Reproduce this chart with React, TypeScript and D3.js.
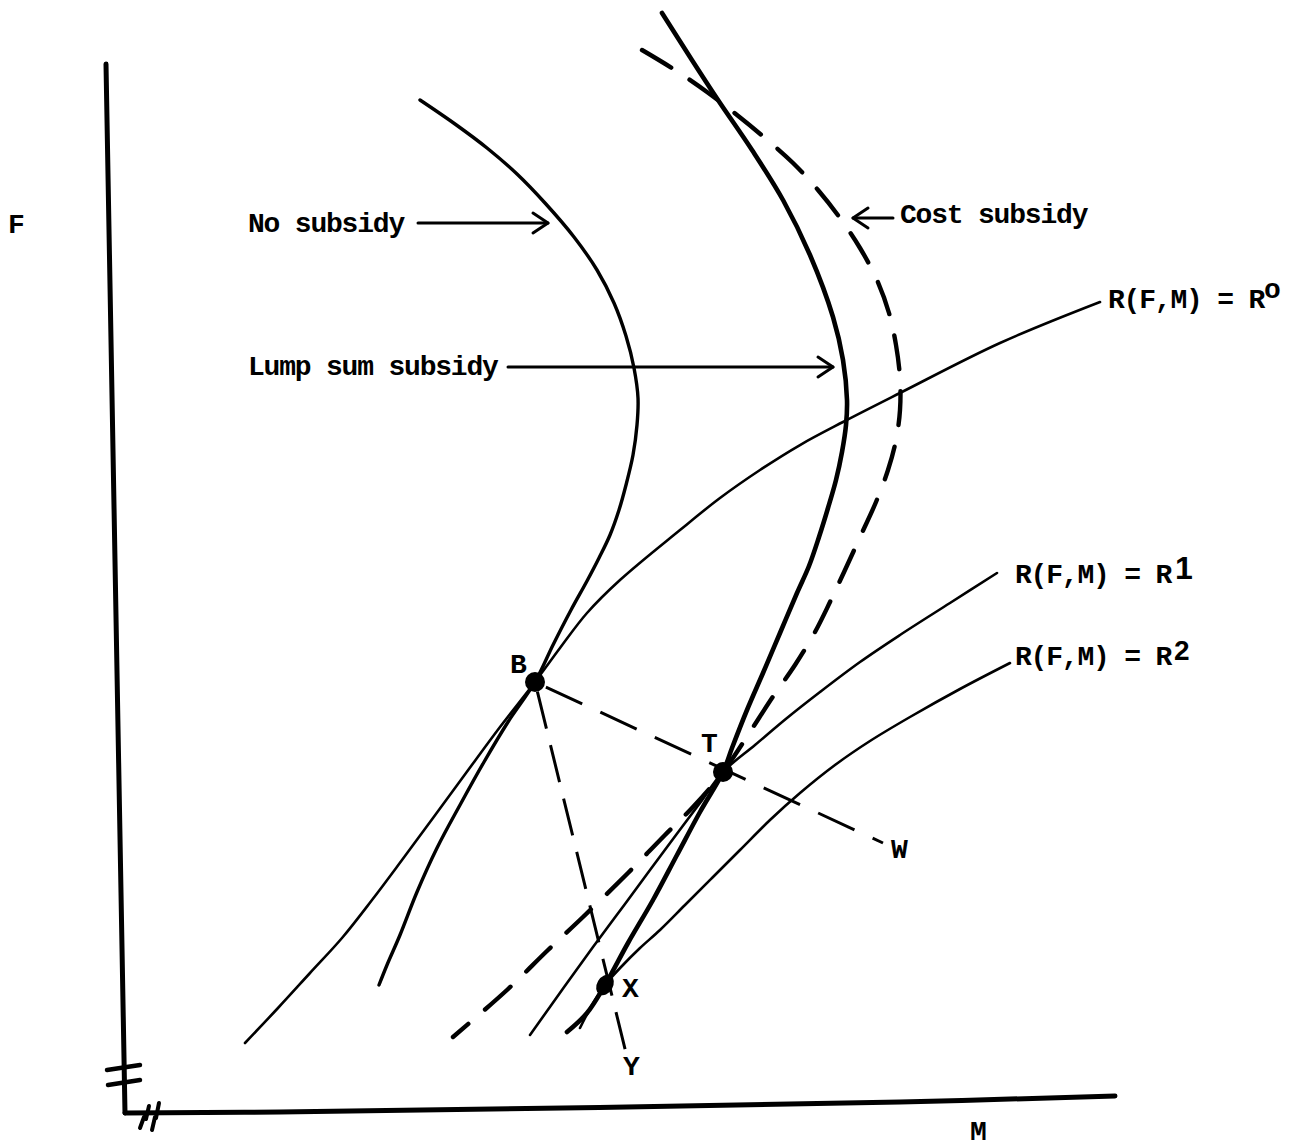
import React from "react";
import * as d3 from "d3";

type P = [number, number];

// ---- data (M on horizontal, F on vertical; arbitrary units) ----
const noSubsidy: P[] = [
  [30.0, 101.0], [33.5, 98.6], [36.7, 96.2], [39.7, 93.6], [42.5, 90.7], [45.4, 87.3],
  [47.7, 84.0], [49.4, 80.7], [50.6, 77.4], [51.4, 74.2], [51.8, 71.2], [51.7, 68.5],
  [51.3, 65.5], [50.6, 62.5], [49.9, 60.0], [49.0, 57.5], [47.9, 55.2], [46.7, 52.9],
  [45.1, 50.0], [43.3, 46.5], [41.5, 42.8], [38.8, 38.8], [36.4, 34.8], [34.0, 30.5],
  [31.7, 26.2], [29.7, 21.8], [28.0, 17.5], [26.7, 14.5], [25.9, 12.5],
];

const lumpSum: P[] = [
  [54.2, 109.7], [57.0, 105.3], [59.8, 101.0], [63.2, 96.0], [66.3, 91.0], [69.0, 85.5],
  [71.3, 79.3], [72.3, 75.0], [72.7, 71.0], [72.6, 68.5], [72.2, 65.8], [71.6, 63.0],
  [70.8, 60.2], [69.9, 57.3], [68.9, 54.4], [67.7, 51.7], [66.0, 47.7], [64.3, 43.7],
  [62.7, 40.0], [61.2, 36.2], [60.3, 33.8], [58.0, 29.8], [55.7, 25.5], [53.3, 21.0],
  [50.8, 16.7], [48.5, 12.5], [46.7, 9.7], [44.7, 7.8],
];

const costSubsidy: P[] = [
  [52.2, 106.0], [55.5, 104.0], [58.7, 101.8], [61.7, 99.5], [64.5, 97.2], [67.3, 94.7],
  [69.8, 92.0], [72.0, 89.2], [74.0, 86.2], [75.7, 83.0], [76.9, 79.7], [77.6, 76.5],
  [78.0, 73.2], [78.0, 70.0], [77.6, 67.0], [76.8, 64.0], [75.6, 60.8], [74.1, 57.5],
  [72.5, 54.0], [71.0, 50.8], [69.5, 47.8], [67.5, 44.5], [65.2, 41.2], [62.8, 37.5],
  [60.3, 33.8], [57.3, 30.3], [54.5, 27.5], [50.8, 23.7], [46.3, 19.3], [42.8, 16.0],
  [38.7, 12.0], [33.3, 7.3],
];

const r0: P[] = [
  [98.0, 80.8], [88.0, 76.7], [78.0, 71.7], [72.3, 68.8], [68.0, 66.5], [64.0, 64.0],
  [60.0, 61.2], [56.0, 58.0], [50.0, 53.0], [46.7, 49.7], [44.0, 46.2], [41.5, 42.8],
  [38.0, 38.3], [34.6, 33.7], [31.3, 29.2], [28.2, 25.0], [25.2, 21.0], [22.2, 17.2],
  [19.0, 13.7], [15.8, 10.2], [12.5, 6.7],
];

const r1: P[] = [
  [87.7, 53.7], [83.0, 50.7], [78.0, 47.5], [74.0, 44.8], [70.0, 41.8], [66.7, 39.2],
  [63.5, 36.5], [60.3, 33.8], [58.0, 30.7], [55.6, 27.5], [53.0, 24.0], [50.2, 20.2],
  [47.3, 16.3], [44.2, 12.0], [41.0, 7.5],
];

const r2: P[] = [
  [89.0, 44.7], [84.0, 42.1], [79.0, 39.3], [75.0, 36.9], [71.5, 34.5], [68.0, 31.7],
  [65.0, 29.0], [62.0, 26.0], [59.2, 23.2], [56.5, 20.5], [54.0, 18.0], [52.0, 16.2],
  [50.2, 14.4], [48.5, 12.5], [47.2, 10.5], [46.0, 8.2],
];

const pointB: P = [41.5, 42.8];
const pointT: P = [60.3, 33.8];
const pointX: P = [48.5, 12.5];
const endW: P = [76.3, 26.7];
const endY: P = [50.7, 5.3];

const axisF: P[] = [[-1.4, 104.6], [0.5, -0.3]];
const axisM: P[] = [[0.5, -0.3], [16.0, -0.2], [78.0, 0.8], [99.5, 1.4]];
const breakF: P[][] = [
  [[-1.3, 4.0], [2.0, 4.5]],
  [[-1.2, 2.5], [2.0, 3.0]],
];
const breakM: P[][] = [
  [[2.0, -1.8], [2.4, -0.7], [2.6, -0.9], [2.9, 0.4]],
  [[3.2, -2.0], [3.5, -0.7], [3.6, -0.8], [3.9, 0.7]],
];

const arrowNo: P[] = [[29.8, 88.7], [42.8, 88.7]];
const arrowLump: P[] = [[38.8, 74.3], [71.3, 74.3]];
const arrowCost: P[] = [[77.3, 89.2], [73.3, 89.2]];

const curveNames = ["No subsidy", "Lump sum subsidy", "Cost subsidy"];
const levelText = "R(F,M) = R";
const levelSup = ["o", "1", "2"];
const pointNames = ["B", "T", "X", "W", "Y"];
const axisNames = ["F", "M"];

// ---- scales ----
const W = 1300;
const H = 1148;
const x = d3.scaleLinear().domain([0, 100]).range([120, 1120]);
const y = d3.scaleLinear().domain([0, 110]).range([1110, 10]);

const smooth = d3
  .line<P>()
  .x((d) => x(d[0]))
  .y((d) => y(d[1]))
  .curve(d3.curveCatmullRom.alpha(0.5));
const straight = d3
  .line<P>()
  .x((d) => x(d[0]))
  .y((d) => y(d[1]));

const MONO = "'Liberation Mono', 'DejaVu Sans Mono', monospace";
const SANS = "'Liberation Sans', Arial, sans-serif";

function arrowHead(seg: P[], len = 15, half = 10): string {
  const [a, b] = seg;
  const x1 = x(a[0]), y1 = y(a[1]), x2 = x(b[0]), y2 = y(b[1]);
  const ang = Math.atan2(y2 - y1, x2 - x1);
  const bx = x2 - len * Math.cos(ang), by = y2 - len * Math.sin(ang);
  const nx = -Math.sin(ang) * half, ny = Math.cos(ang) * half;
  return `M${bx + nx},${by + ny}L${x2},${y2}L${bx - nx},${by - ny}`;
}

export default function App() {
  const ink = "#000";
  const txt = {
    fontFamily: MONO,
    fontSize: 28,
    fontWeight: 700,
    letterSpacing: -1.2,
    fill: ink,
  } as const;
  return (
    <svg
      width={W}
      height={H}
      viewBox={`0 0 ${W} ${H}`}
      style={{ position: "absolute", left: 0, top: 0, background: "#fff" }}
    >
      <rect x={0} y={0} width={W} height={H} fill="#fff" />
      <g fill="none" stroke={ink} strokeLinecap="round" strokeLinejoin="round">
        {/* axes */}
        <path d={straight(axisF) || ""} strokeWidth={5} />
        <path d={smooth(axisM) || ""} strokeWidth={5} />
        {breakF.map((b, i) => (
          <path key={"bf" + i} d={straight(b) || ""} strokeWidth={4.5} />
        ))}
        {breakM.map((b, i) => (
          <path key={"bm" + i} d={straight(b) || ""} strokeWidth={4} />
        ))}

        {/* curves */}
        <path d={smooth(noSubsidy) || ""} strokeWidth={3.4} />
        <path d={smooth(r0) || ""} strokeWidth={2.6} />
        <path d={smooth(r1) || ""} strokeWidth={2.6} />
        <path d={smooth(r2) || ""} strokeWidth={2.6} />
        <path d={smooth(lumpSum) || ""} strokeWidth={4.6} />
        <path
          d={smooth(costSubsidy) || ""}
          strokeWidth={4.4}
          strokeDasharray="34 22"
        />

        {/* straight dashed rays */}
        <path
          d={straight([pointB, endW]) || ""}
          strokeWidth={3}
          strokeLinecap="butt"
          strokeDasharray="40 20"
          strokeDashoffset={-12}
        />
        <path
          d={straight([pointB, endY]) || ""}
          strokeWidth={3}
          strokeLinecap="butt"
          strokeDasharray="38 17"
          strokeDashoffset={-10}
        />

        {/* arrows */}
        {[arrowNo, arrowLump, arrowCost].map((a, i) => (
          <g key={"ar" + i}>
            <path d={straight(a) || ""} strokeWidth={3} />
            <path d={arrowHead(a)} strokeWidth={3} />
          </g>
        ))}
      </g>

      {/* points */}
      {[pointB, pointT].map((p, i) => (
        <circle key={"pt" + i} cx={x(p[0])} cy={y(p[1])} r={10} fill={ink} />
      ))}
      <ellipse
        cx={x(pointX[0])}
        cy={y(pointX[1])}
        rx={8}
        ry={11}
        transform={`rotate(30 ${x(pointX[0])} ${y(pointX[1])})`}
        fill={ink}
      />

      {/* axis names */}
      <text x={8} y={233} {...txt}>{axisNames[0]}</text>
      <text x={970} y={1140} {...txt}>{axisNames[1]}</text>

      {/* curve names */}
      <text x={248} y={232} {...txt}>{curveNames[0]}</text>
      <text x={248} y={375} {...txt}>{curveNames[1]}</text>
      <text x={900} y={223} {...txt}>{curveNames[2]}</text>

      {/* level set labels */}
      <text x={1108} y={308} {...txt}>
        {levelText}
        <tspan dy={-10}>{levelSup[0]}</tspan>
      </text>
      <text x={1015} y={583} {...txt}>
        {levelText}
        <tspan dx={4} dy={-4} fontFamily={SANS} fontSize={32}>{levelSup[1]}</tspan>
      </text>
      <text x={1015} y={665} {...txt}>
        {levelText}
        <tspan dx={3} dy={-5} fontFamily={SANS} fontSize={28}>{levelSup[2]}</tspan>
      </text>

      {/* point labels */}
      <text x={510} y={673} {...txt}>{pointNames[0]}</text>
      <text x={701} y={752} {...txt}>{pointNames[1]}</text>
      <text x={622} y={997} {...txt}>{pointNames[2]}</text>
      <text x={891} y={858} {...txt}>{pointNames[3]}</text>
      <text x={623} y={1075} {...txt}>{pointNames[4]}</text>
    </svg>
  );
}
